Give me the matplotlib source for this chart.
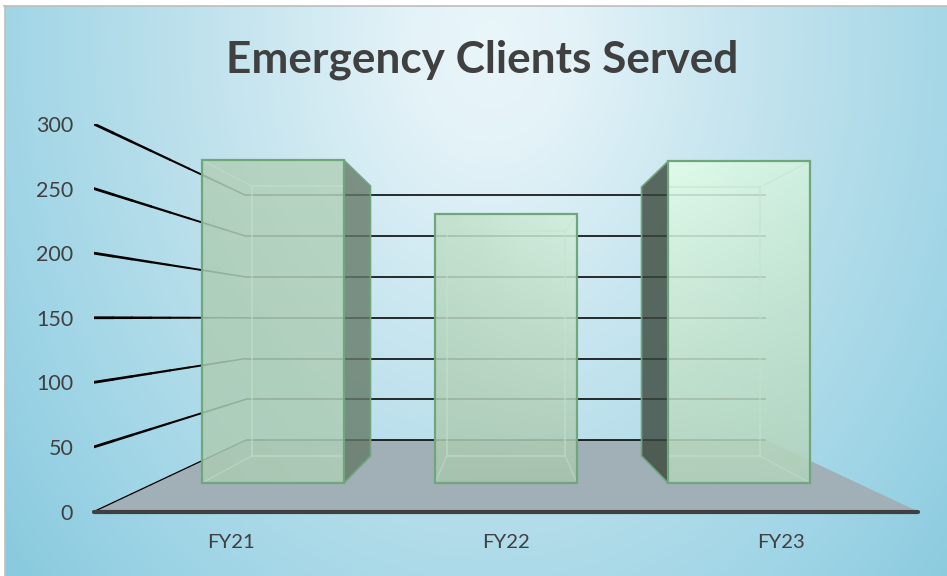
# emergency clients chart, redrawn as a hand built 3d column chart
# the axes is the front plane of the box, everything deeper is scaled towards
# the vanishing point in data coordinates

import matplotlib
matplotlib.use("Agg")
import matplotlib.pyplot as plt
import numpy as np
from matplotlib.collections import LineCollection
from matplotlib.colors import to_rgb
from matplotlib.lines import Line2D
from matplotlib.patches import Polygon

categories = ["FY21", "FY22", "FY23"]
clients = [293, 244, 292]
y_ticks = [0, 50, 100, 150, 200, 250, 300]

# depth scale of the back wall and of the front and back of the columns
WALL = 0.631
BAR_FRONT = 0.853
BAR_BACK = 0.713
BAR_WIDTH = 0.606
BAR_STEP = 0.995
VANISH = (1.5, 150)

TEXT = "#404040"
EDGE = "#6FA67C"
INNER = "#C4E2CB"

# corners of each front face: top left, top right, bottom left, bottom right
face_colors = [
    ("#B0CFB8", "#B4D2BC", "#ABCBB3", "#AECDB6"),
    ("#C0DFC9", "#D2EEDB", "#A9C7AE", "#A8C6AD"),
    ("#E2FDE9", "#D3F2DE", "#B3D3BA", "#B1D3BB"),
]
side_colors = ["#667A68", None, "#3A483C"]


def project(x, v, s):
    # moves a point of the front plane to depth s
    return VANISH[0] + s * (x - VANISH[0]), VANISH[1] + s * (v - VANISH[1])


def box_rect(x0, x1, v, s):
    # corners of a column section, clockwise from bottom left
    return [project(x0, 0, s), project(x0, v, s), project(x1, v, s), project(x1, 0, s)]


def background(fig):
    # radial blue fill inside the thin gray frame
    bg = fig.add_axes([5 / 947, 0, 942 / 947, 570 / 576], zorder=-1)
    yy, xx = np.mgrid[6:576, 5:947]
    t = np.sqrt(((xx - 490) / 520.0) ** 2 + ((yy - 40) / 680.0) ** 2)
    stops = [0.0, 0.15, 0.4, 0.7, 0.95, 1.2]
    colors = np.array([to_rgb(c) for c in ["#E9F6FA", "#E4F3F8", "#CDE8F1", "#B4DDEA", "#9FD5E6", "#8ACADE"]])
    rgb = np.dstack([np.interp(t, stops, colors[:, i]) for i in range(3)])
    bg.imshow(rgb, aspect="auto", interpolation="bilinear")
    bg.axis("off")
    fig.add_artist(Line2D([4.5 / 947, 4.5 / 947], [0, 570 / 576], color="#BDBDBD", lw=1.2))
    fig.add_artist(Line2D([4 / 947, 1], [570.5 / 576, 570.5 / 576], color="#BDBDBD", lw=1.2))


def draw_walls(ax):
    # floor, then side wall grid lines that get thinner towards the back
    floor = [project(0, 0, 1), project(0, 0, WALL), project(3, 0, WALL), project(3, 0, 1)]
    ax.add_patch(Polygon(floor, closed=True, fc="#A1AFB6", ec="none", zorder=1))

    for v in y_ticks:
        depth = np.linspace(1, WALL, 9)
        pts = np.array([project(0, v, s) for s in depth])
        segs = np.stack([pts[:-1], pts[1:]], axis=1)
        widths = np.linspace(2.0, 1.1, 8) if v > 0 else 0.9
        wall = LineCollection(segs, colors="black", linewidths=widths, zorder=2, capstyle="round")
        # sem snap a linha horizontal do 150 nao pula de pixel no meio
        wall.set_snap(False)
        ax.add_collection(wall)
        x0, y0 = project(0, v, WALL)
        x1, y1 = project(3, v, WALL)
        ax.plot([x0, x1], [y0, y1], color="black", lw=1.15, zorder=2, solid_capstyle="butt")

    ax.plot([0, 3], [0, 0], color=TEXT, lw=3.0, zorder=7, clip_on=False, solid_capstyle="round")


def draw_column(ax, i, value):
    center = 1.5 + (i - 1) * BAR_STEP
    x0 = center - BAR_WIDTH / 2
    x1 = center + BAR_WIDTH / 2
    front = box_rect(x0, x1, value, BAR_FRONT)
    back = box_rect(x0, x1, value, BAR_BACK)

    # side face that is visible from the vanishing point
    if side_colors[i] is not None:
        k = 2 if i == 0 else 0
        n = (k + 1) if i == 0 else 1
        side = [front[k], back[k], back[n], front[n]]
        ax.add_patch(Polygon(side, closed=True, fc=side_colors[i], ec="none", alpha=0.8, zorder=3))
        ax.add_patch(Polygon(side, closed=True, fc="none", ec=EDGE, lw=1.2, zorder=3))

    # front face with a gradient over its four corners
    tl, tr, bl, br = [np.array(to_rgb(c)) for c in face_colors[i]]
    u = np.linspace(0, 1, 64)[None, :, None]
    w = np.linspace(0, 1, 64)[:, None, None]
    rgb = (1 - w) * ((1 - u) * tl + u * tr) + w * ((1 - u) * bl + u * br)
    rgba = np.dstack([rgb, np.full(rgb.shape[:2], 0.86)])
    im = ax.imshow(rgba, extent=[front[0][0], front[3][0], front[0][1], front[1][1]],
                   aspect="auto", interpolation="bilinear", zorder=4)
    patch = Polygon(front, closed=True, fc="none", ec="none", transform=ax.transData)
    ax.add_patch(patch)
    im.set_clip_path(patch)

    # back edges and corner diagonals seen through the front only
    for a, b in zip(front, back):
        line, = ax.plot([a[0], b[0]], [a[1], b[1]], color=INNER, lw=1.0, alpha=0.5, zorder=5)
        line.set_clip_path(patch)
    pts = np.array(back + back[:1])
    line, = ax.plot(pts[:, 0], pts[:, 1], color=INNER, lw=1.4, alpha=0.5, zorder=5)
    line.set_clip_path(patch)

    ax.add_patch(Polygon(front, closed=True, fc="none", ec=EDGE, lw=1.6, zorder=6,
                         joinstyle="miter"))


plt.rcParams["font.family"] = ["Lato", "DejaVu Sans"]

fig = plt.figure(figsize=(9.47, 5.76), dpi=100, facecolor="white")
background(fig)

ax = fig.add_axes([94 / 947, 1 - 511.5 / 576, 824 / 947, 387.5 / 576], zorder=1)
ax.patch.set_alpha(0)

draw_walls(ax)
for i, value in enumerate(clients):
    draw_column(ax, i, value)

ax.set_xlim(0, 3)
ax.set_ylim(0, 300)
ax.set_xticks([i + 0.5 for i in range(len(categories))], categories)
ax.set_yticks(y_ticks)
ax.tick_params(axis="y", length=0, pad=15, labelsize=15.5, labelcolor=TEXT)
ax.tick_params(axis="x", length=0, pad=16, labelsize=14.6, labelcolor=TEXT)
for spine in ax.spines.values():
    spine.set_visible(False)

fig.text(482 / 947, 1 - 60 / 576, "Emergency Clients Served", fontsize=31.8, fontweight="bold",
         color=TEXT, ha="center", va="center")

fig.savefig("out.png", dpi=100)
plt.close(fig)
